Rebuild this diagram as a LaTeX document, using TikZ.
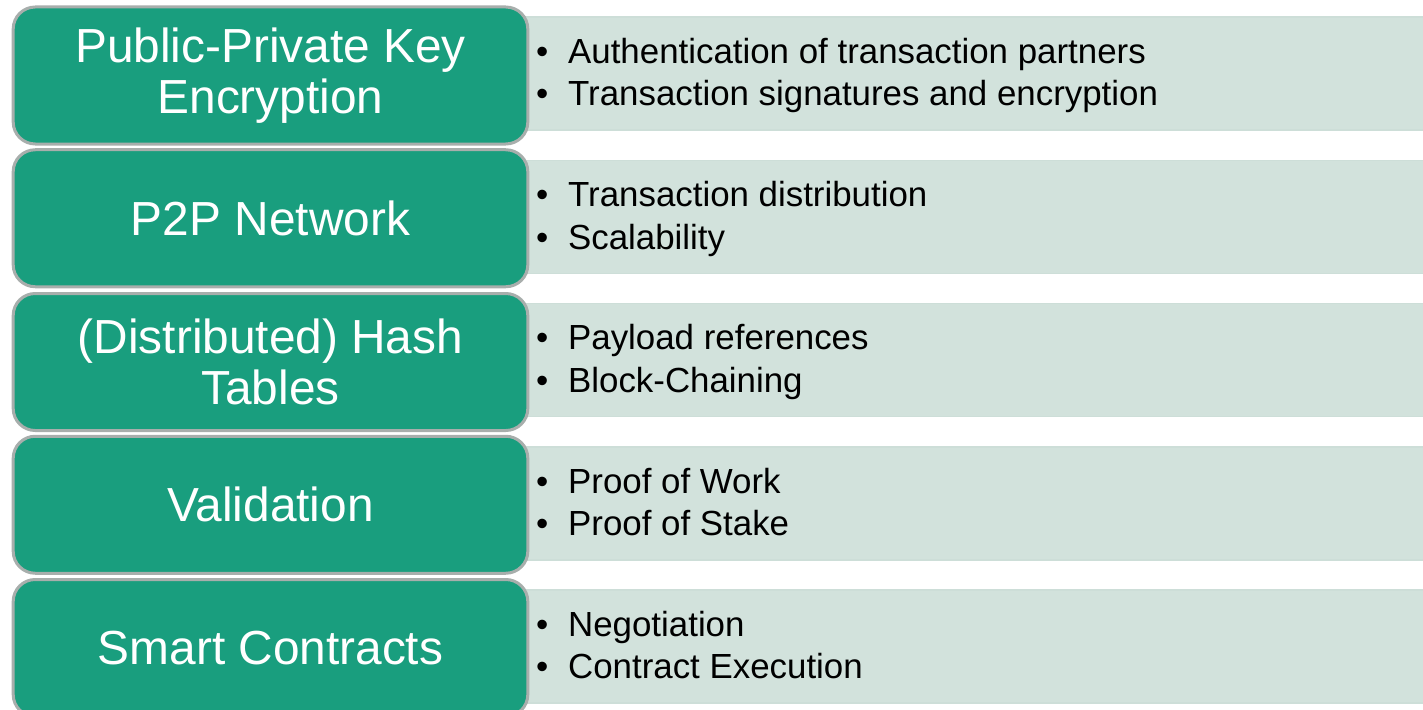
\documentclass[tikz,border=0pt]{standalone}
\usepackage{fontspec}
\setmainfont{Liberation Sans}
\usepackage{tikz}
\definecolor{boxgreen}{HTML}{199E7E}
\definecolor{boxrim}{HTML}{A8AEAC}
\definecolor{barfill}{HTML}{D2E2DC}
\definecolor{baredge}{HTML}{CDDED8}
\tikzstyle{topic}=[rectangle,rounded corners=22bp,fill=boxgreen,draw=boxrim,line width=3bp,minimum width=514.6bp,minimum height=137bp,inner sep=0pt,align=center,text=white,font=\fontsize{48}{51}\selectfont]
\tikzstyle{bar}=[rectangle,fill=barfill,draw=baredge,line width=1.5bp,minimum width=915bp,minimum height=113bp,anchor=west,inner sep=0pt]
\tikzstyle{items}=[anchor=west,inner sep=0pt,font=\fontsize{35}{42.7}\selectfont]
\newcommand{\bulletpair}[2]{\begin{tabular}{@{}l@{\hspace{19.75bp}}l@{}}\hspace*{2bp}\textbullet & #1\\ \hspace*{2bp}\textbullet & #2\end{tabular}}

\begin{document}
\begin{tikzpicture}[x=1bp,y=-1bp]
		\useasboundingbox (0,0) rectangle (1423,710);

		% bars
		\node[bar] (keysbar) at (515,73.6) {};
		\node[bar] (netbar) at (515,216.85) {};
		\node[bar] (hashbar) at (515,360.1) {};
		\node[bar] (validbar) at (515,503.35) {};
		\node[bar] (contractbar) at (515,646.6) {};

		% topics
		\node[topic] (keys) at (270.5,75.5) {Public-Private Key\\Encryption};
		\node[topic] (net) at (270.5,218.25) {P2P Network};
		\node[topic] (hash) at (270.5,362) {(Distributed) Hash\\Tables};
		\node[topic] (valid) at (270.5,504.75) {Validation};
		\node[topic] (contract) at (270.5,648) {Smart Contracts};

		% items
		\node[items] (keysitems) at (534,76.1)
			{\bulletpair{Authentication of transaction partners}{Transaction signatures and encryption}};
		\node[items] (netitems) at (534,219.35)
			{\bulletpair{Transaction distribution}{Scalability}};
		\node[items] (hashitems) at (534,362.6)
			{\bulletpair{Payload references}{Block-Chaining}};
		\node[items] (validitems) at (534,505.85)
			{\bulletpair{Proof of Work}{Proof of Stake}};
		\node[items] (contractitems) at (534,649.1)
			{\bulletpair{Negotiation}{Contract Execution}};
	\end{tikzpicture}
\end{document}
